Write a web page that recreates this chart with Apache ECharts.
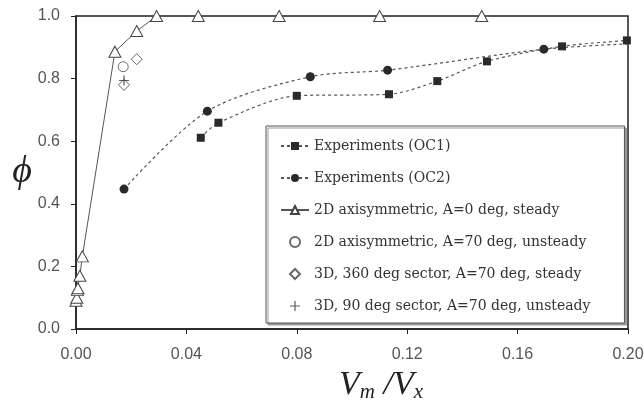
<!DOCTYPE html>
<html>
<head>
<meta charset="utf-8">
<script src="https://cdn.jsdelivr.net/npm/echarts@6/dist/echarts.min.js"></script>
<style>
  html, body { margin: 0; padding: 0; background: #fff; }
</style>
</head>
<body>
<div id="echarts" style="width: 644px; height: 405px"></div>
<script>
// values, [Vm/Vx, phi]
const oc1Data = [[0.0452, 0.611], [0.0516, 0.659], [0.080, 0.745], [0.1134, 0.750], [0.1309, 0.792], [0.1489, 0.855], [0.1761, 0.903], [0.1996, 0.922]];
const oc1Tail = [0.205, 0.925];
const oc2Data = [[0.0174, 0.447], [0.0476, 0.696], [0.0849, 0.806], [0.1129, 0.827], [0.1695, 0.894]];
const oc2Tail = [0.205, 0.913];
const axi0Data = [[0.0, 0.09], [0.0003, 0.10], [0.0005, 0.125], [0.0007, 0.13], [0.0014, 0.17], [0.0023, 0.232], [0.0141, 0.886], [0.022, 0.952], [0.0292, 1.0], [0.0443, 1.0], [0.0736, 1.0], [0.110, 1.0], [0.147, 1.0]];
const axi70Data = [[0.0171, 0.838]];
const sec360Data = [[0.022, 0.862], [0.0174, 0.78]];
const sec90Data = [[0.0174, 0.794]];

const seriesNames = [
  'Experiments (OC1)',
  'Experiments (OC2)',
  '2D axisymmetric, A=0 deg, steady',
  '2D axisymmetric, A=70 deg, unsteady',
  '3D, 360 deg sector, A=70 deg, steady',
  '3D, 90 deg sector, A=70 deg, unsteady'
];
const xTicks = { min: 0, max: 0.2, step: 0.04 };
const yTicks = { min: 0, max: 1.0, step: 0.2 };

const plusPath = 'path://M4.4,0H5.6V4.4H10V5.6H5.6V10H4.4V5.6H0V4.4H4.4Z';
const diamondPath = 'path://M5,0L10,5L5,10L0,5Z';

let myChart = echarts.init(document.getElementById('echarts'));

function withTail(data, tail) {
  return data.concat([{ value: tail, symbol: 'none' }]);
}

myChart.setOption({
  animation: false,
  grid: {
    left: 76, right: 16, top: 16, bottom: 76,
    outerBoundsMode: 'none',
    show: true,
    borderColor: '#222',
    borderWidth: 1.5
  },
  legend: {
    orient: 'vertical',
    left: 266,
    top: 126,
    padding: [12, 34, 9, 14],
    itemGap: 16,
    itemWidth: 28,
    itemHeight: 10,
    backgroundColor: '#fff',
    borderColor: '#555',
    borderWidth: 1,
    shadowColor: '#999',
    shadowOffsetX: 2,
    shadowOffsetY: 2,
    shadowBlur: 0,
    textStyle: {
      fontFamily: 'DejaVu Serif',
      fontSize: 14,
      lineHeight: 16,
      color: '#333'
    }
  },
  xAxis: {
    type: 'value',
    min: xTicks.min,
    max: xTicks.max,
    interval: xTicks.step,
    splitLine: { show: false },
    axisLine: { onZero: false, lineStyle: { color: '#222', width: 1.5 } },
    axisTick: { inside: false, length: 5, lineStyle: { color: '#222' } },
    axisLabel: {
      margin: 18,
      color: '#555',
      fontFamily: 'Liberation Sans',
      fontSize: 16,
      formatter: v => v.toFixed(2)
    },
    name: '{v|V}{s|m}{v| /V}{s|x}',
    nameLocation: 'middle',
    nameGap: 36,
    nameTextStyle: {
      padding: [0, 0, 0, 58],
      rich: {
        v: { fontFamily: 'Liberation Serif', fontStyle: 'italic', fontSize: 34, color: '#222' },
        s: { fontFamily: 'Liberation Serif', fontStyle: 'italic', fontSize: 21, color: '#222', padding: [16, 0, 0, 0] }
      }
    }
  },
  yAxis: {
    type: 'value',
    min: yTicks.min,
    max: yTicks.max,
    interval: yTicks.step,
    splitLine: { show: false },
    axisLine: { onZero: false, lineStyle: { color: '#222', width: 1.5 } },
    axisTick: { inside: false, length: 5, lineStyle: { color: '#222' } },
    axisLabel: {
      margin: 16,
      color: '#555',
      fontFamily: 'Liberation Sans',
      fontSize: 16,
      formatter: v => v.toFixed(1)
    },
    name: 'ϕ',
    nameLocation: 'middle',
    nameRotate: 0,
    nameGap: 43,
    nameTextStyle: {
      fontFamily: 'Liberation Serif',
      fontStyle: 'italic',
      fontSize: 38,
      color: '#222',
      padding: [12, 0, 0, 0]
    }
  },
  series: [
    {
      name: seriesNames[0],
      type: 'line',
      data: withTail(oc1Data, oc1Tail),
      clip: false,
      smooth: 0.3,
      symbol: 'rect',
      symbolSize: 8,
      itemStyle: { color: '#2a2a2a' },
      lineStyle: { color: '#555', width: 1.2, type: [3, 3] },
      z: 3
    },
    {
      name: seriesNames[1],
      type: 'line',
      data: withTail(oc2Data, oc2Tail),
      clip: false,
      smooth: 0.3,
      symbol: 'circle',
      symbolSize: 9,
      itemStyle: { color: '#2a2a2a' },
      lineStyle: { color: '#555', width: 1.2, type: [3, 3] },
      z: 3
    },
    {
      name: seriesNames[2],
      type: 'line',
      data: axi0Data,
      clip: false,
      symbol: 'triangle',
      symbolSize: [12, 11],
      showAllSymbol: true,
      itemStyle: { color: '#fff', borderColor: '#444', borderWidth: 1 },
      lineStyle: { color: '#555', width: 1 },
      z: 4
    },
    {
      name: seriesNames[3],
      type: 'scatter',
      data: axi70Data,
      symbol: 'circle',
      symbolSize: 10,
      itemStyle: { color: '#fff', borderColor: '#444', borderWidth: 1 },
      z: 5
    },
    {
      name: seriesNames[4],
      type: 'scatter',
      data: sec360Data,
      symbol: diamondPath,
      symbolSize: 11,
      itemStyle: { color: '#fff', borderColor: '#444', borderWidth: 1 },
      z: 5
    },
    {
      name: seriesNames[5],
      type: 'scatter',
      data: sec90Data,
      symbol: plusPath,
      symbolSize: 10,
      itemStyle: { color: '#333' },
      z: 6
    }
  ]
});
</script>
</body>
</html>
